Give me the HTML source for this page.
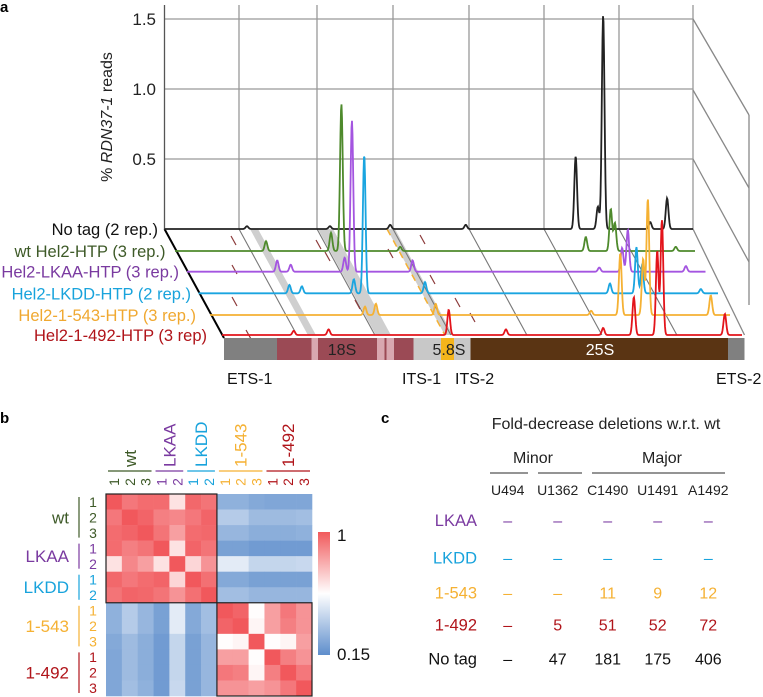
<!DOCTYPE html>
<html><head><meta charset="utf-8">
<style>
html,body{margin:0;padding:0;background:#fff;}
svg{display:block;font-family:"Liberation Sans",Arial,sans-serif;}
</style></head>
<body>
<svg id="fig" width="763" height="697" viewBox="0 0 763 697" xmlns="http://www.w3.org/2000/svg">
  <text x="0" y="12" font-size="15" font-weight="bold">a</text>
  <text x="0" y="423" font-size="15" font-weight="bold">b</text>
  <text x="381" y="423" font-size="15" font-weight="bold">c</text>
  <g id="pa"></g>
  <g id="pb"></g>
  <g id="pc"></g>
</svg>
<script>
// ---------- Panel a data ----------
const seriesNames = ["No tag (2 rep.)","wt Hel2-HTP (3 rep.)","Hel2-LKAA-HTP (3 rep.)","Hel2-LKDD-HTP (2 rep.)","Hel2-1-543-HTP (3 rep.)","Hel2-1-492-HTP (3 rep)"];
const yTicks = [0.5, 1.0, 1.5];
const yTickLabels = ["0.5","1.0","1.5"];
const peakPosNoTag = [0.156,0.313,0.427,0.570,0.778,0.820,0.830,0.919,0.951];
const peakHNoTag   = [0.02,0.02,0.03,0.03,0.52,0.16,1.53,0.05,0.22];
const peakPosWt = [0.175,0.300,0.320,0.433,0.790,0.838,0.846,0.963];
const peakHWt   = [0.07,0.13,1.05,0.03,0.10,0.30,0.20,0.03];
const peakPosLKAA = [0.174,0.200,0.304,0.318,0.435,0.795,0.839,0.850,0.962];
const peakHLKAA   = [0.08,0.05,0.10,1.08,0.08,0.03,0.17,0.30,0.04];
const peakPosLKDD = [0.175,0.199,0.299,0.319,0.436,0.792,0.843,0.854,0.967];
const peakHLKDD   = [0.06,0.05,0.10,0.99,0.08,0.07,0.33,0.20,0.03];
const peakPos543 = [0.298,0.319,0.434,0.733,0.789,0.833,0.842,0.963];
const peakH543   = [0.06,0.08,0.08,0.03,0.44,0.40,0.83,0.14];
const peakPos492 = [0.138,0.205,0.436,0.546,0.733,0.792,0.837,0.846,0.967];
const peakH492   = [0.03,0.04,0.18,0.04,0.05,0.27,0.60,0.82,0.15];

// ---------- Panel b data ----------
const hmLabels = ["wt1","wt2","wt3","LKAA1","LKAA2","LKDD1","LKDD2","543-1","543-2","543-3","492-1","492-2","492-3"];
const hmRow0  = [1,.92,.95,.95,.65,.96,.93,.28,.28,.25,.24,.24,.24];
const hmRow1  = [.92,1,.97,.90,.88,.92,.97,.38,.38,.32,.32,.32,.33];
const hmRow2  = [.95,.97,1,.93,.82,.95,.96,.30,.30,.27,.27,.27,.28];
const hmRow3  = [.95,.90,.93,1,.65,.97,.93,.22,.22,.20,.20,.20,.20];
const hmRow4  = [.65,.88,.82,.65,1,.68,.85,.50,.50,.42,.42,.42,.43];
const hmRow5  = [.96,.92,.95,.97,.68,1,.94,.25,.25,.22,.22,.22,.22];
const hmRow6  = [.93,.97,.96,.93,.85,.94,1,.33,.33,.30,.30,.30,.30];
const hmRow7  = [.28,.38,.30,.22,.50,.25,.33,1,.97,.58,.82,.92,.85];
const hmRow8  = [.28,.38,.30,.22,.50,.25,.33,.97,1,.60,.82,.90,.85];
const hmRow9  = [.25,.32,.27,.20,.42,.22,.30,.58,.60,1,.58,.60,.82];
const hmRow10 = [.24,.32,.27,.20,.42,.22,.30,.82,.82,.58,1,.90,.85];
const hmRow11 = [.24,.32,.27,.20,.42,.22,.30,.92,.90,.60,.90,1,.92];
const hmRow12 = [.24,.33,.28,.20,.43,.22,.30,.85,.85,.82,.85,.92,1];

// ---------- Panel c data ----------
const tblCols = ["U494","U1362","C1490","U1491","A1492"];
const tblRows = ["LKAA","LKDD","1-543","1-492","No tag"];
const tblLKAA = ["–","–","–","–","–"];
const tblLKDD = ["–","–","–","–","–"];
const tbl543 = ["–","–","11","9","12"];
const tbl492 = ["–","5","51","52","72"];
const tblNoTag = ["–","47","181","175","406"];

const NS="http://www.w3.org/2000/svg";
function mk(parent,tag,attrs,text){const e=document.createElementNS(NS,tag);for(const k in attrs)e.setAttribute(k,attrs[k]);if(text!==undefined)e.textContent=text;parent.appendChild(e);return e;}

// ===== Panel a =====
const pa=document.getElementById('pa');
const Y0=229, PXU=140, XL=164.5, XR=693;
function yv(v){return Y0 - v*PXU;}
const vgrid=[239,317,393,469,544,619,693];
yTicks.forEach((t,i)=>{
  const l=mk(pa,'line',{x1:XL,y1:yv(t),x2:XR,y2:yv(t),stroke:'#999','stroke-width':1.3});
  
  
  const tx=mk(pa,'text',{x:156,y:yv(t)+6,'font-size':17,'text-anchor':'end',fill:'#222'},yTickLabels[i]);
  
  
});
vgrid.forEach(x=>{mk(pa,'line',{x1:x,y1:5,x2:x,y2:Y0,stroke:'#999','stroke-width':1.3});});
mk(pa,'line',{x1:XL,y1:5,x2:XL,y2:Y0,stroke:'#555','stroke-width':1.3,});
[[19,115],[90,188],[159,262]].forEach(p=>mk(pa,'line',{x1:XR,y1:p[0],x2:749,y2:p[1],stroke:'#888','stroke-width':1.3}));
mk(pa,'line',{x1:749,y1:115,x2:749,y2:305,stroke:'#888','stroke-width':1.3});
mk(pa,'line',{x1:XR,y1:Y0,x2:744.5,y2:335,stroke:'#888','stroke-width':1.3});
const yt=mk(pa,'text',{transform:'translate(112,117) rotate(-90)','font-size':16,'text-anchor':'middle',fill:'#222',});
yt.innerHTML='% <tspan font-style="italic">RDN37-1</tspan> reads';
const SL=59.5/109;
[[250,258],[318,333],[387,395]].forEach(b=>{
  mk(pa,'polygon',{points:`${b[0]},229 ${b[1]},229 ${b[1]+106*SL},335 ${b[0]+106*SL},335`,fill:'#cfcfcf'});
});
mk(pa,'line',{x1:387,y1:229,x2:387+106*SL,y2:335,stroke:'#f5b133','stroke-width':1.5,'stroke-dasharray':'7 6'});
vgrid.slice(0,6).forEach(x=>mk(pa,'line',{x1:x,y1:Y0,x2:x+106*SL,y2:335,stroke:'#777','stroke-width':1.1}));
[[231,236],[232,265],[232,297],[246,330],[325,252],[316,240],[355,300],[388,249],[420,235],[430,275],[455,298],[470,313]].forEach(d=>{
  mk(pa,'line',{x1:d[0],y1:d[1],x2:d[0]+5,y2:d[1]+9,stroke:'#8c3a3a','stroke-width':1.2});
});
mk(pa,'line',{x1:XL,y1:Y0,x2:224,y2:338,stroke:'#000','stroke-width':2,});
const starts=[164.5,175,187,198.5,210,222], ends=[693,695,705.6,718,730,742], bases=[229,251,271.7,293.3,315,335];
const cols=['#222','#4e8a2c','#a455e0','#1aa5e0','#f5b133','#e3141b'];
const txtCols=['#111','#3e5a28','#7a3aa0','#18a3dc','#f0a830','#b0141a'];
const labEnd=[158,165.5,179,191,196,207];
const posArr=[peakPosNoTag,peakPosWt,peakPosLKAA,peakPosLKDD,peakPos543,peakPos492];
const hArr=[peakHNoTag,peakHWt,peakHLKAA,peakHLKDD,peakH543,peakH492];
const slugs=['no-tag','wt','lkaa','lkdd','1-543','1-492'];
for(let s=0;s<6;s++){
  const x0=starts[s],x1=ends[s],b=bases[s];
  let d='';
  for(let x=x0;x<=x1;x+=0.5){
    let v=0;
    for(let k=0;k<posArr[s].length;k++){const px=x0+posArr[s][k]*(x1-x0);const z=(x-px)/1.9;v+=hArr[s][k]*Math.exp(-z*z);}
    d+=(x===x0?'M':'L')+x.toFixed(1)+','+(b-v*PXU).toFixed(1);
  }
  const p=mk(pa,'path',{d:d,fill:'none',stroke:cols[s],'stroke-width':1.8});
  
  
  const t=mk(pa,'text',{x:labEnd[s],y:b+6,'font-size':16.5,'text-anchor':'end',fill:txtCols[s]},seriesNames[s]);
  
  
}
const segs=[[224,277,'#808080'],[277,413.5,'#9b4a55'],[413.5,470.5,'#c8c8c8'],[441,454,'#f5b51c'],[470.5,728,'#5a3413'],[728,744.5,'#808080'],[311.5,318,'#d8a8b0'],[377,384.5,'#d8a8b0'],[386.5,394,'#d8a8b0']];
segs.forEach(g=>mk(pa,'rect',{x:g[0],y:338,width:g[1]-g[0],height:22,fill:g[2]}));
mk(pa,'text',{x:342,y:355,'font-size':16,'text-anchor':'middle',fill:'#222'},'18S');
mk(pa,'text',{x:449,y:355,'font-size':16,'text-anchor':'middle',fill:'#222'},'5.8S');
mk(pa,'text',{x:600,y:355,'font-size':16,'text-anchor':'middle',fill:'#fff'},'25S');
[['ETS-1',227],['ITS-1',402],['ITS-2',455],['ETS-2',716]].forEach(l=>mk(pa,'text',{x:l[1],y:384,'font-size':16,fill:'#111'},l[0]));

// ===== Panel b =====
const pb=document.getElementById('pb');
const rows=[hmRow0,hmRow1,hmRow2,hmRow3,hmRow4,hmRow5,hmRow6,hmRow7,hmRow8,hmRow9,hmRow10,hmRow11,hmRow12];
const HX=106,HY=494,CW=(312-106)/13,CH=(696-494)/13;
function lerp(a,b,t){return Math.round(a+(b-a)*t);}
function color(v){
  const mid=0.575;
  if(v>=mid){const t=(v-mid)/(1-mid);return `rgb(${lerp(255,241,t)},${lerp(255,88,t)},${lerp(255,92,t)})`;}
  const t=(mid-v)/(mid-0.15);return `rgb(${lerp(255,94,t)},${lerp(255,142,t)},${lerp(255,204,t)})`;
}
rows.forEach((r,i)=>r.forEach((v,j)=>{
  const c=mk(pb,'rect',{x:HX+j*CW,y:HY+i*CH,width:CW+0.3,height:CH+0.3,fill:color(v)});
  
  
}));
mk(pb,'rect',{x:HX,y:HY,width:7*CW,height:7*CH,fill:'none',stroke:'#222','stroke-width':1.2});
mk(pb,'rect',{x:HX+7*CW,y:HY+7*CH,width:6*CW,height:6*CH,fill:'none',stroke:'#222','stroke-width':1.2});
const grp=[['wt',0,3,'#3e5a28'],['LKAA',3,5,'#7a3aa0'],['LKDD',5,7,'#18a3dc'],['1-543',7,10,'#f5b133'],['1-492',10,13,'#b0141a']];
const nums=['1','2','3','1','2','1','2','1','2','3','1','2','3'];
const numCol=i=>grp.find(g=>i>=g[1]&&i<g[2])[3];
nums.forEach((n,i)=>{
  const cx=HX+(i+0.5)*CW, cy=HY+(i+0.5)*CH;
  mk(pb,'text',{transform:`translate(${cx+5},482) rotate(-90)`,'font-size':14,'text-anchor':'middle',fill:numCol(i)},n);
  mk(pb,'text',{x:93,y:cy+5,'font-size':14,'text-anchor':'middle',fill:numCol(i)},n);
});
grp.forEach(g=>{
  const xa=HX+g[1]*CW+2, xb=HX+g[2]*CW-2;
  mk(pb,'line',{x1:xa,y1:471,x2:xb,y2:471,stroke:g[3],'stroke-width':1.2});
  mk(pb,'text',{transform:`translate(${(xa+xb)/2+6},467) rotate(-90)`,'font-size':17,fill:g[3]},g[0]);
  const ya=HY+g[1]*CH+3, yb=HY+g[2]*CH-3;
  mk(pb,'line',{x1:79,y1:ya,x2:79,y2:yb,stroke:g[3],'stroke-width':1.2});
  mk(pb,'text',{x:69,y:(ya+yb)/2+6,'font-size':17,'text-anchor':'end',fill:g[3]},g[0]);
});
const defs=mk(pb,'defs',{});
const lg=mk(defs,'linearGradient',{id:'cb',x1:0,y1:0,x2:0,y2:1});
mk(lg,'stop',{offset:'0',"stop-color":'#f15a5c'});
mk(lg,'stop',{offset:'0.5',"stop-color":'#ffffff'});
mk(lg,'stop',{offset:'1',"stop-color":'#5e8ecc'});
mk(pb,'rect',{x:318,y:532,width:12,height:123,fill:'url(#cb)',});
mk(pb,'text',{x:337,y:541,'font-size':17,fill:'#111'},'1');
mk(pb,'text',{x:337,y:660,'font-size':17,fill:'#111'},'0.15');

// ===== Panel c =====
const pc=document.getElementById('pc');
mk(pc,'text',{x:606,y:429,'font-size':16,'text-anchor':'middle',fill:'#222',},'Fold-decrease deletions w.r.t. wt');
mk(pc,'text',{x:533,y:463,'font-size':16,'text-anchor':'middle',fill:'#222'},'Minor');
mk(pc,'text',{x:662,y:463,'font-size':16,'text-anchor':'middle',fill:'#222'},'Major');
[[490,528],[538,582],[592,725]].forEach(l=>mk(pc,'line',{x1:l[0],y1:473,x2:l[1],y2:473,stroke:'#555','stroke-width':1.2}));
const colX=[507.7,557.7,607.7,657.7,708.3];
tblCols.forEach((c,i)=>mk(pc,'text',{x:colX[i],y:495,'font-size':14,'text-anchor':'middle',fill:'#222'},c));
const rowY=[520,557.7,592.7,624.3,658.3];
const rowCol=['#7a3aa0','#18a3dc','#f5b133','#b0141a','#111'];
const tblData=[tblLKAA,tblLKDD,tbl543,tbl492,tblNoTag];
tblRows.forEach((r,i)=>{
  const t=mk(pc,'text',{x:477,y:rowY[i]+6,'font-size':16.5,'text-anchor':'end',fill:rowCol[i]},r);
  
  
  tblData[i].forEach((v,j)=>mk(pc,'text',{x:colX[j],y:rowY[i]+6,'font-size':16,'text-anchor':'middle',fill:rowCol[i]},v));
});
</script>
</body></html>
